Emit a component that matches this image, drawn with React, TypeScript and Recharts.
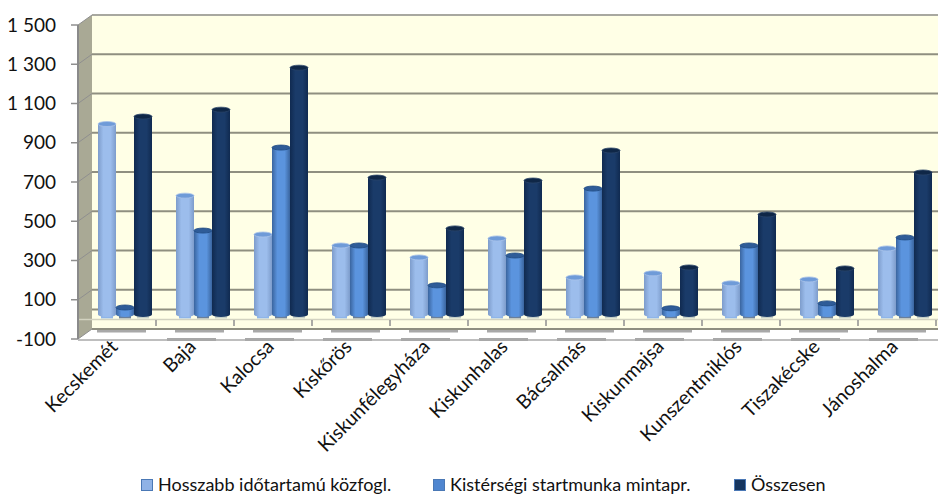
import { BarChart, Bar, XAxis, YAxis, CartesianGrid, Legend, usePlotArea } from "recharts";

// ─── Data ────────────────────────────────────────────────────────────────────
const categories = ["Kecskemét", "Baja", "Kalocsa", "Kiskőrös", "Kiskunfélegyháza", "Kiskunhalas", "Bácsalmás", "Kiskunmajsa", "Kunszentmiklós", "Tiszakécske", "Jánoshalma"];
const hosszabb = [970, 605, 407, 351, 290, 387, 188, 209, 158, 178, 336];
const kisterseg = [35, 427, 850, 351, 148, 300, 641, 31, 351, 56, 392];
const osszesen = [1008, 1043, 1257, 697, 438, 682, 835, 239, 509, 234, 723];
const yTicks = [-100, 100, 300, 500, 700, 900, 1100, 1300, 1500];

const rows = categories.map((name, i) => ({ name, hosszabb: hosszabb[i], kisterseg: kisterseg[i], osszesen: osszesen[i] }));

const FONT = "Lato, sans-serif";
const DX = 14; // depth of the fake 3d box
const DY = 10;
const GRID = "#8f8f80";

// ─── Side wall, drawn over the grid ──────────────────────────────────────────
function Walls() {
  const p = usePlotArea();
  if (!p) return null;
  const { x, y, width, height } = p;
  const bottom = y + height;
  const right = x + width + 2;
  const zero = bottom - height / 16;
  return (
    <g>
      <polygon points={`${x},${y} ${x + DX},${y - DY} ${x + DX},${bottom - DY} ${x},${bottom}`} fill="#a9a995" />
      {yTicks.map((t) => {
        const ty = y + (height * (1500 - t)) / 1600;
        return (
          <g key={t}>
            <line x1={x - 7} y1={ty} x2={x} y2={ty} stroke="#8f8f8f" strokeWidth={1.5} />
            <line x1={x} y1={ty} x2={x + DX} y2={ty - DY} stroke="#8f8f8f" strokeWidth={1} />
          </g>
        );
      })}
      <line x1={x + DX} y1={y - DY} x2={right} y2={y - DY} stroke="#a8a8a0" strokeWidth={2} />
      <line x1={x + DX} y1={zero - DY} x2={right} y2={zero - DY} stroke={GRID} strokeWidth={2} />
      <line x1={x} y1={zero} x2={right} y2={zero} stroke="#d2d2c0" strokeWidth={1.5} />
      <line x1={x} y1={y} x2={x} y2={bottom} stroke="#8a8a8a" strokeWidth={2} />
      <line x1={x} y1={bottom + 1} x2={right} y2={bottom + 1} stroke="#a8a8a8" strokeWidth={1.5} />
    </g>
  );
}

// ─── Grid line on back wall ──────────────────────────────────────────────────
function BackLine(props: any) {
  const { x1, x2, y1 } = props;
  return <line x1={x1} y1={y1 - DY} x2={x2} y2={y1 - DY} stroke={GRID} strokeWidth={2} />;
}

// ─── Cylinder bar ────────────────────────────────────────────────────────────
function Cylinder(props: any) {
  const { x, y, width, height, id, cap, rim, foot } = props;
  const left = x + 8;
  const top = y - 5;
  const rx = width / 2;
  return (
    <g>
      <rect x={left + 3} y={top + height - 1} width={width - 6} height={5} fill={foot} />
      <rect x={left} y={top} width={width} height={height} fill={`url(#${id})`} />
      <ellipse cx={left + rx} cy={top + height} rx={rx} ry={2.5} fill={`url(#${id})`} />
      <ellipse cx={left + rx} cy={top} rx={rx} ry={2.5} fill={cap} stroke={rim} strokeWidth={0.8} />
    </g>
  );
}

function Gradient({ id, edge, mid }: { id: string; edge: string; mid: string }) {
  return (
    <linearGradient id={id} x1="0" y1="0" x2="1" y2="0">
      <stop offset="0" stopColor={edge} />
      <stop offset="0.3" stopColor={mid} />
      <stop offset="0.7" stopColor={mid} />
      <stop offset="1" stopColor={edge} />
    </linearGradient>
  );
}

// ─── Axis ticks ──────────────────────────────────────────────────────────────
function CategoryTick(props: any) {
  const { x, y, payload, index } = props;
  return (
    <g>
      <line x1={x + 39} y1={y - 27} x2={x + 39} y2={y - 21} stroke="#8f8f8f" strokeWidth={1.5} />
      <rect x={x - 20} y={y - 17} width={49} height={2.5} fill="#a8a8a8" />
      {index > 0 && <rect x={x - 28} y={y - 9} width={49} height={3} fill="#a8a8a8" />}
      <text x={x + 2} y={y + 1} textAnchor="end" fontFamily={FONT} fontSize={19.5} fill="#111" transform={`rotate(-45 ${x + 2} ${y + 1})`}>
        {payload.value}
      </text>
    </g>
  );
}

function LegendRow({ payload }: any) {
  const starts = [141, 433, 734];
  return (
    <div style={{ position: "relative", height: 30, fontFamily: FONT, fontSize: 18, color: "#111" }}>
      {(payload ?? []).map((item: any, i: number) => (
        <div key={item.value} style={{ position: "absolute", left: starts[i], top: 7, whiteSpace: "nowrap" }}>
          <span style={{ display: "inline-block", width: 10, height: 10, background: item.color, border: "1px solid #4a78b5", marginRight: 5 }} />
          {item.value}
        </div>
      ))}
    </div>
  );
}

export default function App() {
  return (
    <div style={{ position: "absolute", left: 0, top: 0, width: 938, height: 496, background: "#fff" }}>
      <BarChart width={938} height={496} data={rows} margin={{ top: 25, right: 2, left: 0, bottom: 0 }} barSize={18} barGap={0} barCategoryGap={12}>
        <defs>
          <Gradient id="lightBar" edge="#7d9ccb" mid="#9cbdec" />
          <Gradient id="midBar" edge="#3a659f" mid="#5b94de" />
          <Gradient id="darkBar" edge="#102a50" mid="#1a3b69" />
        </defs>
        <CartesianGrid x={92} y={15} width={846} height={315} fill="#ffffe6" fillOpacity={1} vertical={false} horizontal={(p: any) => <BackLine {...p} />} />
        <Walls />
        <XAxis dataKey="name" height={127} axisLine={false} tickLine={false} interval={0} tick={<CategoryTick />} />
        <YAxis
          domain={[-100, 1500]}
          ticks={yTicks}
          width={78}
          axisLine={false}
          tickLine={false}
          tickMargin={16}
          interval={0}
          tick={{ fontFamily: FONT, fontSize: 19, fill: "#111" }}
          tickFormatter={(v: number) => (v >= 1000 ? `${Math.floor(v / 1000)} ${String(v % 1000).padStart(3, "0")}` : String(v))}
        />
        <Legend content={<LegendRow />} />
        <Bar dataKey="hosszabb" name="Hosszabb időtartamú közfogl." fill="#8fb2e6" isAnimationActive={false} shape={<Cylinder id="lightBar" cap="#6f9bd8" rim="#a9c3e8" foot="#8fb5e8" />} />
        <Bar dataKey="kisterseg" name="Kistérségi startmunka mintapr." fill="#4f86d0" isAnimationActive={false} shape={<Cylinder id="midBar" cap="#2f5c98" rim="#1f4a82" foot="#6a7f9a" />} />
        <Bar dataKey="osszesen" name="Összesen" fill="#17365f" isAnimationActive={false} shape={<Cylinder id="darkBar" cap="#0f2747" rim="#2a4468" foot="#c5cfc8" />} />
      </BarChart>
    </div>
  );
}
